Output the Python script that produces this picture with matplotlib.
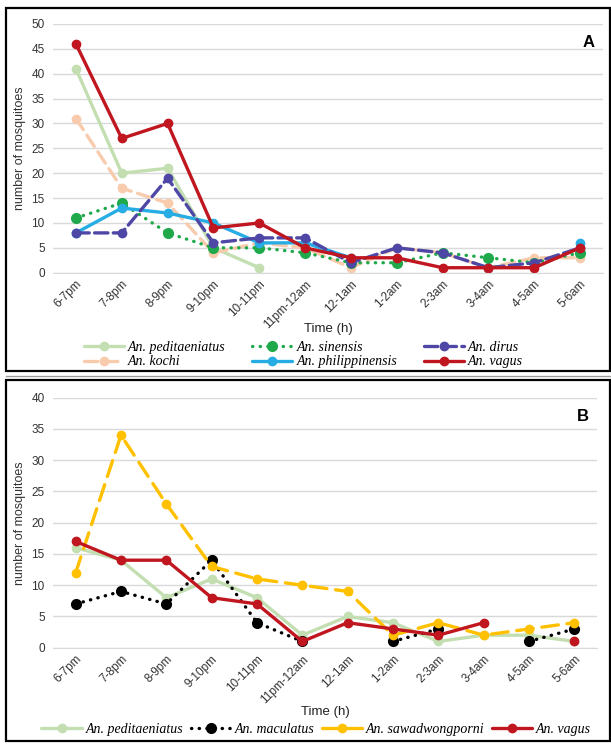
import numpy as np
import matplotlib.pyplot as plt
from matplotlib.patches import Rectangle
from matplotlib.lines import Line2D

nan = np.nan

# ----------------------------------------------------------------------
#   Data
# ----------------------------------------------------------------------
times = ['6-7pm', '7-8pm', '8-9pm', '9-10pm', '10-11pm', '11pm-12am',
         '12-1am', '1-2am', '2-3am', '3-4am', '4-5am', '5-6am']

# panel A
a_peditaeniatus  = [41, 20, 21, 5, 1, nan, nan, nan, nan, nan, nan, nan]
a_sinensis       = [11, 14, 8, 5, 5, 4, 2, 2, 4, 3, 2, 4]
a_dirus          = [8, 8, 19, 6, 7, 7, 2, 5, 4, 1, 2, 5]
a_kochi          = [31, 17, 14, 4, 6, 5, 1, 5, 4, 1, 3, 3]
a_philippinensis = [8, 13, 12, 10, 6, 6, 3, nan, nan, nan, nan, 6]
a_vagus          = [46, 27, 30, 9, 10, 5, 3, 3, 1, 1, 1, 5]

# panel B
b_peditaeniatus  = [16, 14, 8, 11, 8, 2, 5, 4, 1, 2, 2, 1]
b_maculatus      = [7, 9, 7, 14, 4, 1, nan, 1, 3, nan, 1, 3]
b_sawadwongporni = [12, 34, 23, 13, 11, 10, 9, 2, 4, 2, 3, 4]
b_vagus          = [17, 14, 14, 8, 7, 1, 4, 3, 2, 4, nan, 1]

# ----------------------------------------------------------------------
#   Styles
# ----------------------------------------------------------------------
c_ped = '#c3dfb2'
c_sin = '#1fa94b'
c_dir = '#4e47a6'
c_koc = '#f8cbad'
c_phi = '#27ade4'
c_vag = '#c0161f'
c_saw = '#ffc000'
c_mac = '#000000'

# legend order is column-wise for ncol=3
styles_a = [
    ('An. peditaeniatus', a_peditaeniatus, c_ped, '-'),
    ('An. kochi', a_kochi, c_koc, (0, (4, 2))),
    ('An. sinensis', a_sinensis, c_sin, (0, (0.1, 2.2))),
    ('An. philippinensis', a_philippinensis, c_phi, '-'),
    ('An. dirus', a_dirus, c_dir, (0, (4, 1.6))),
    ('An. vagus', a_vagus, c_vag, '-'),
]
styles_b = [
    ('An. peditaeniatus', b_peditaeniatus, c_ped, '-'),
    ('An. maculatus', b_maculatus, c_mac, (0, (0.1, 2.2))),
    ('An. sawadwongporni', b_sawadwongporni, c_saw, (0, (5, 2.6))),
    ('An. vagus', b_vagus, c_vag, '-'),
]

plt.rcParams['font.family'] = ['Liberation Sans', 'DejaVu Sans']
legend_font = {'family': 'Liberation Serif', 'style': 'italic', 'size': 10}


def draw_panel(ax, series, ymax, letter, label_y):
    x = np.arange(len(times))
    for label, vals, color, ls in series:
        ms = 7 if color in (c_sin, c_mac) else 6
        ax.plot(x, vals, linestyle=ls, color=color, lw=2.4, marker='o',
                markersize=ms, label=label, dash_capstyle='round',
                solid_capstyle='round')
    ax.set_xlim(-0.5, len(times) - 0.5)
    ax.set_ylim(0, ymax)
    ax.set_yticks(np.arange(0, ymax + 1, 5))
    ax.set_xticks(x)
    ax.set_xticklabels(times, rotation=45, ha='right', rotation_mode='anchor',
                       fontsize=8.5, color='#333333')
    ax.tick_params(axis='y', labelsize=8.5, labelcolor='#333333', length=0, pad=6)
    ax.tick_params(axis='x', length=0, pad=4)
    ax.grid(axis='y', color='#d9d9d9', lw=1)
    ax.set_axisbelow(True)
    for s in ['top', 'right', 'left']:
        ax.spines[s].set_visible(False)
    ax.spines['bottom'].set_color('#d9d9d9')
    ax.set_xlabel('Time (h)', fontsize=9.5, color='#222222')
    ax.xaxis.set_label_coords(0.5, label_y)
    ax.set_ylabel('number of mosquitoes', fontsize=9, color='#333333', labelpad=4)
    ax.text(0.985, 0.955, letter, transform=ax.transAxes, ha='right', va='top',
            fontsize=12, fontweight='bold')


fig = plt.figure(figsize=(6.11, 7.44), dpi=100)

# panel frames
W, H = 611, 744
def frame(x0, y0, x1, y1, color='black', lw=1.6):
    fig.patches.append(Rectangle((x0 / W, 1 - y1 / H), (x1 - x0) / W, (y1 - y0) / H,
                                 transform=fig.transFigure, fill=False,
                                 edgecolor=color, lw=lw))
frame(6, 8, 610, 371)
frame(6, 380, 610, 741)
fig.add_artist(Line2D([6 / W, 610 / W], [1 - 376 / H, 1 - 376 / H],
                      transform=fig.transFigure, color='#999999', lw=1))

ax1 = fig.add_axes([53 / W, 1 - 272.7 / H, 550 / W, 248.7 / H])
draw_panel(ax1, styles_a, 50, 'A', -0.202)
ax1.legend(prop=legend_font, ncol=3, loc='upper center',
           bbox_to_anchor=(0.455, -0.275), frameon=False, handlelength=2.9,
           columnspacing=1.9, labelspacing=0.1, handletextpad=0.3,
           borderaxespad=0, borderpad=0)

ax2 = fig.add_axes([53 / W, 1 - 647.7 / H, 544 / W, 250 / H])
draw_panel(ax2, styles_b, 40, 'B', -0.233)
ax2.legend(prop=legend_font, ncol=4, loc='upper center',
           bbox_to_anchor=(0.484, -0.302), frameon=False, handlelength=2.9,
           columnspacing=0.5, handletextpad=0.3, borderaxespad=0, borderpad=0)

fig.savefig('out.png', dpi=100)
